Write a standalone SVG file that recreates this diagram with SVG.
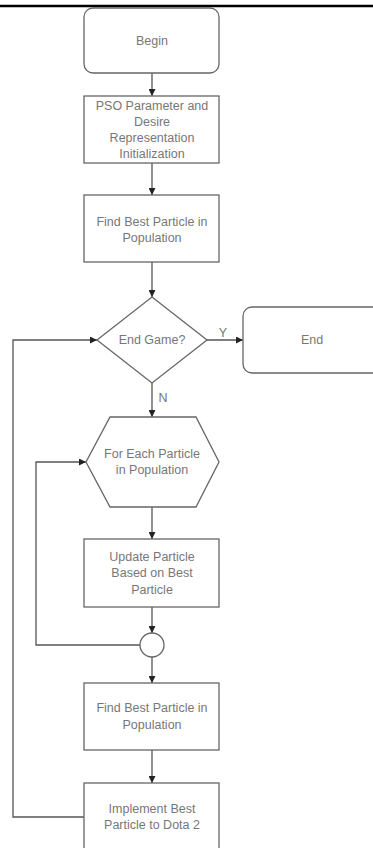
<svg xmlns="http://www.w3.org/2000/svg" width="373" height="848" viewBox="0 0 373 848">
<defs>
<marker id="ah" viewBox="0 0 8 8" refX="8" refY="4" markerWidth="7" markerHeight="7" markerUnits="userSpaceOnUse" orient="auto">
<path d="M0,0 L8,4 L0,8 Z" fill="#222"/>
</marker>
<style>
.n{fill:#fff;stroke:#666;stroke-width:1.3}
.t{font-family:"Liberation Sans",Arial,sans-serif;font-size:12.5px;fill:#777;text-anchor:middle}
.c{fill:none;stroke:#555;stroke-width:1.3}
</style>
</defs>
<rect width="373" height="848" fill="#fff"/>
<line x1="0" y1="6" x2="373" y2="6" stroke="#000" stroke-width="2.5"/>
<g id="connectors">
<line class="c" x1="152" y1="73" x2="152" y2="96" marker-end="url(#ah)"/>
<line class="c" x1="152" y1="163" x2="152" y2="195" marker-end="url(#ah)"/>
<line class="c" x1="152" y1="262" x2="152" y2="297" marker-end="url(#ah)"/>
<line class="c" x1="207" y1="340" x2="243" y2="340" marker-end="url(#ah)"/>
<line class="c" x1="152" y1="383" x2="152" y2="417" marker-end="url(#ah)"/>
<line class="c" x1="152" y1="507" x2="152" y2="539" marker-end="url(#ah)"/>
<line class="c" x1="152" y1="607" x2="152" y2="633" marker-end="url(#ah)"/>
<line class="c" x1="152" y1="657" x2="152" y2="683" marker-end="url(#ah)"/>
<line class="c" x1="152" y1="750" x2="152" y2="783" marker-end="url(#ah)"/>
<polyline class="c" points="140,645 36,645 36,462 86,462" marker-end="url(#ah)"/>
<polyline class="c" points="84,817 13,817 13,340 97,340" marker-end="url(#ah)"/>
<text class="t" x="223" y="337">Y</text>
<text class="t" x="163" y="402">N</text>
</g>
<g id="begin">
<rect class="n" x="84" y="8" width="135" height="65" rx="9"/>
<text class="t" x="152" y="45">Begin</text>
</g>
<g id="init">
<rect class="n" x="84" y="96" width="135" height="67"/>
<text class="t" x="152" y="110">PSO Parameter and</text>
<text class="t" x="152" y="126">Desire</text>
<text class="t" x="152" y="142">Representation</text>
<text class="t" x="152" y="158">Initialization</text>
</g>
<g id="findbest1">
<rect class="n" x="84" y="195" width="135" height="67"/>
<text class="t" x="152" y="226">Find Best Particle in</text>
<text class="t" x="152" y="242">Population</text>
</g>
<g id="endgame">
<polygon class="n" points="152,297 207,340 152,383 97,340"/>
<text class="t" x="152" y="344">End Game?</text>
</g>
<g id="end">
<rect class="n" x="243" y="307" width="140" height="66" rx="9"/>
<text class="t" x="312" y="344">End</text>
</g>
<g id="foreach">
<polygon class="n" points="110,417 196,417 219,462 196,507 110,507 86,462"/>
<text class="t" x="152" y="458">For Each Particle</text>
<text class="t" x="152" y="474">in Population</text>
</g>
<g id="update">
<rect class="n" x="84" y="539" width="135" height="68"/>
<text class="t" x="152" y="561">Update Particle</text>
<text class="t" x="152" y="577">Based on Best</text>
<text class="t" x="152" y="594">Particle</text>
</g>
<g id="merge">
<circle class="n" cx="152" cy="645" r="12"/>
</g>
<g id="findbest2">
<rect class="n" x="84" y="683" width="135" height="67"/>
<text class="t" x="152" y="712">Find Best Particle in</text>
<text class="t" x="152" y="729">Population</text>
</g>
<g id="implement">
<rect class="n" x="84" y="783" width="135" height="70"/>
<text class="t" x="152" y="813">Implement Best</text>
<text class="t" x="152" y="829">Particle to Dota 2</text>
</g>
</svg>
